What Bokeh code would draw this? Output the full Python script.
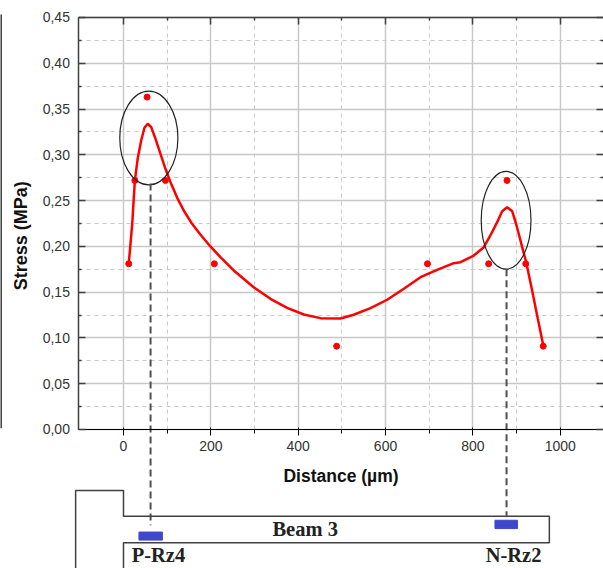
from bokeh.plotting import figure
from bokeh.embed import file_html
from bokeh.resources import INLINE
from bokeh.models import Range1d, FixedTicker, LinearAxis

# Stress data
point_x = [12, 26, 54, 96, 208, 488, 696, 836, 878, 921, 961]
point_y = [0.181, 0.272, 0.363, 0.272, 0.181, 0.091, 0.181, 0.181, 0.272, 0.181, 0.091]
curve_x = [12, 20, 26, 33, 40.5, 48, 55.6, 63.4, 73.3, 84.7, 96, 107.6, 123, 138, 157, 176, 199,
           222, 245, 252.5, 298, 336.5, 374.7, 412.8, 451, 496.8, 527, 565.5, 603.7, 641.8, 680,
           718, 756, 771.5, 802, 825, 840, 855.5, 867, 878.4, 890, 901, 912.8, 922, 935.6, 948.6, 961.5]
curve_y = [0.181, 0.2246, 0.272, 0.2974, 0.3156, 0.3295, 0.3339, 0.3302, 0.3175, 0.3011, 0.2847,
           0.2701, 0.2530, 0.2392, 0.2246, 0.2130, 0.1999, 0.1882, 0.1773, 0.1737, 0.1554, 0.1427,
           0.1329, 0.1256, 0.1216, 0.1212, 0.1253, 0.1325, 0.1417, 0.1537, 0.1663, 0.1744, 0.1816,
           0.1827, 0.19, 0.1991, 0.2119, 0.2264, 0.2384, 0.2428, 0.2384, 0.2209, 0.1991, 0.1827,
           0.1518, 0.1209, 0.0910]

# Ticks
x_major = [0, 200, 400, 600, 800, 1000]
x_minor = [100, 300, 500, 700, 900]
y_major = [0.0, 0.05, 0.10, 0.15, 0.20, 0.25, 0.30, 0.35, 0.40, 0.45]
y_minor = [0.025, 0.075, 0.125, 0.175, 0.225, 0.275, 0.325, 0.375, 0.425]
y_labels = ["0,00", "0,05", "0,10", "0,15", "0,20", "0,25", "0,30", "0,35", "0,40", "0,45"]

# Annotations, in the chart's data units
ellipse_x = [58, 876]
ellipse_y = [0.3184, 0.2285]
ellipse_w = [133, 114]
ellipse_h = [0.1023, 0.1067]
lead_x = [62, 877]
lead_top = [0.2686, 0.1751]
lead_bottom = [-0.1045, -0.0941]
beam_x = [-109.6, -109.6, 0, 0, 975, 975, 0, 0]
beam_y = [-0.152, -0.0666, -0.0666, -0.0947, -0.0947, -0.1237, -0.1237, -0.152]
pad_left = [35.4, 850.5]
pad_right = [89, 902]
pad_top = [-0.112, -0.0991]
pad_bottom = [-0.1208, -0.1082]
rule_x = [-280.5, -280.5]
rule_y = [0.0015, 0.4533]
note_x = [-235, 416, 80, 893]
note_y = [0.2115, -0.109, -0.1375, -0.1375]
x_lim = (-102, 1099)
y_lim = (0, 0.45)

GRID = "#c8c8c8"
DARK = "#404040"
TEXT = "#333333"

p = figure(width=603, height=568, output_backend="svg", toolbar_location=None,
           x_range=Range1d(-281.6, 1099), y_range=Range1d(-0.1518, 0.4685),
           min_border=0, margin=(0, 0, 0, 0))
p.outline_line_color = None
p.background_fill_color = "white"

xt = FixedTicker(ticks=x_major, minor_ticks=x_minor)
yt = FixedTicker(ticks=y_major, minor_ticks=y_minor)

p.xaxis.ticker = xt
p.yaxis.ticker = yt
p.xgrid.ticker = xt
p.ygrid.ticker = yt
p.xgrid.cross_bounds = y_lim
p.ygrid.cross_bounds = x_lim
for g in (p.xgrid, p.ygrid):
    g.grid_line_color = GRID
    g.grid_line_width = 1.5
    g.minor_grid_line_color = GRID
    g.minor_grid_line_width = 1
    g.minor_grid_line_dash = "4 4"

p.xaxis.fixed_location = 0
p.yaxis.fixed_location = x_lim[0]
p.xaxis.bounds = x_lim
p.yaxis.bounds = y_lim
p.yaxis.major_label_overrides = {v: s for v, s in zip(y_major, y_labels)}
for ax in (p.xaxis[0], p.yaxis[0]):
    ax.major_label_text_font = "Liberation Sans"
    ax.major_label_text_font_size = "14px"
    ax.major_label_text_color = TEXT

p.xaxis.axis_label = "Distance (µm)"
p.xaxis.axis_label_text_font = "Liberation Sans"
p.xaxis.axis_label_text_font_style = "bold"
p.xaxis.axis_label_text_font_size = "17.5px"
p.xaxis.axis_label_text_color = "#111111"
p.xaxis.axis_label_standoff = 11
p.xaxis.major_label_standoff = 6
p.yaxis.major_label_standoff = 9

extra_top = LinearAxis(ticker=xt, fixed_location=y_lim[1], bounds=x_lim,
                       major_label_overrides={v: "" for v in x_major})
extra_right = LinearAxis(ticker=yt, fixed_location=x_lim[1], bounds=y_lim, axis_line_color=None,
                         major_label_overrides={v: "" for v in y_major})
p.add_layout(extra_top, "above")
p.add_layout(extra_right, "right")

for ax in (p.xaxis[0], p.yaxis[0], extra_top, extra_right):
    ax.major_tick_in = 7
    ax.major_tick_out = 0
    ax.minor_tick_in = 3
    ax.minor_tick_out = 0
    ax.major_tick_line_color = DARK
    ax.minor_tick_line_color = DARK
    ax.major_tick_line_width = 1.5
    ax.minor_tick_line_width = 1.5
    if ax is not extra_right:
        ax.axis_line_color = DARK
        ax.axis_line_width = 1.5

p.line(curve_x, curve_y, line_color="#ff0000", line_width=2.5)
p.scatter(point_x, point_y, size=6, color="#ff0000")
p.ellipse(ellipse_x, ellipse_y, width=ellipse_w, height=ellipse_h,
          fill_color=None, line_color="#222222", line_width=1.2)

p.segment(lead_x, lead_top, lead_x, lead_bottom, line_color="#505050", line_width=2, line_dash="7 4")
p.line(beam_x, beam_y, line_color=DARK, line_width=1.5)
p.quad(left=pad_left, right=pad_right, top=pad_top, bottom=pad_bottom,
       fill_color="#3f48cc", line_color="#3f48cc", line_width=1)
p.line(rule_x, rule_y, line_color="#000000", line_width=1.5)

p.text(note_x[:1], note_y[:1], text=["Stress (MPa)"], angle=1.5708, text_align="center",
       text_baseline="middle", text_font_style="bold", text_font_size="18px", text_color="#111111",
       text_font={"value": "Liberation Sans"})
p.text(note_x[1:], note_y[1:], text=["Beam 3", "P-Rz4", "N-Rz2"], text_align="center",
       text_baseline="middle", text_font_style="bold", text_font_size="20.5px", text_color="#222222",
       text_font={"value": "Liberation Serif"})

open("out.html", "w").write(file_html(p, INLINE))
